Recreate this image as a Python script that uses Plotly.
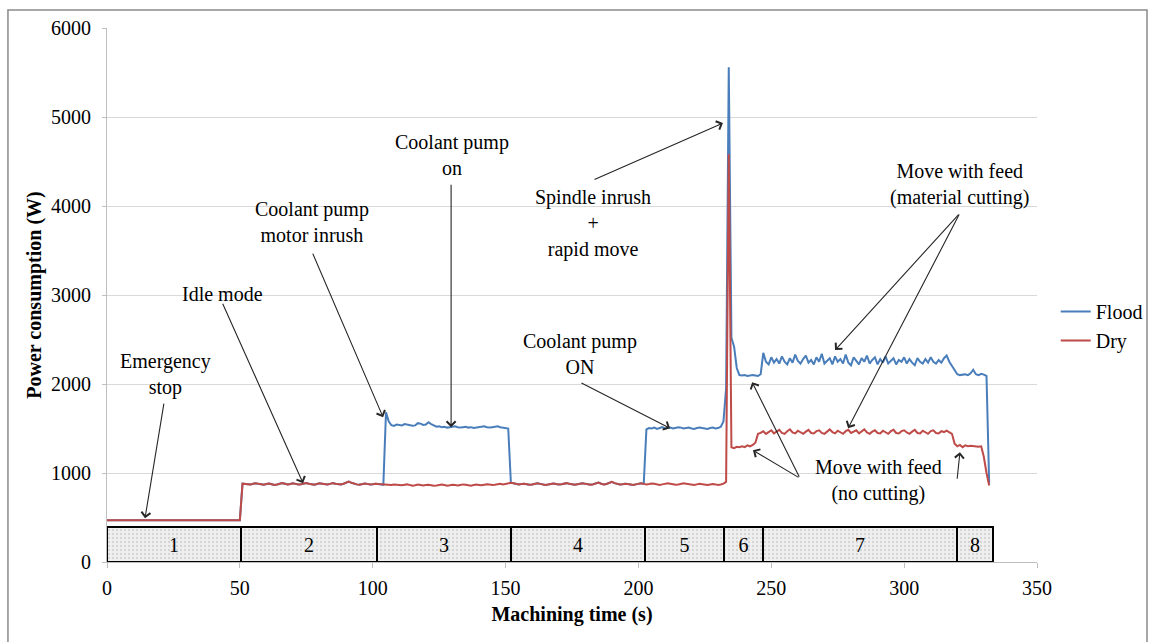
import plotly.graph_objects as go

SERIF = "Liberation Serif"

# ---- machining power log, sampled once per second (t = 0 .. 332 s) ----
time_s = list(range(0, 333))

dry_w = [
    # emergency stop, t 0-50
    470, 470, 471, 470, 469, 470, 470, 471, 470, 470,
    470, 469, 470, 470, 471, 470, 470, 470, 469, 470,
    471, 470, 470, 470, 470, 469, 470, 471, 470, 470,
    470, 470, 469, 470, 470, 471, 470, 470, 470, 469,
    470, 470, 471, 470, 470, 470, 469, 470, 470, 471,
    470,
    # idle, t 51-104
    880, 878, 875, 872, 880, 884, 878, 870, 868, 876,
    882, 874, 866, 870, 878, 886, 880, 872, 876, 884,
    878, 870, 874, 882, 888, 880, 872, 868, 876, 884,
    880, 874, 870, 878, 886, 880, 876, 872, 880, 896,
    904, 890, 878, 872, 868, 876, 882, 878, 870, 874,
    880, 876, 872, 868,
    # t 105-151
    866, 860, 864, 870, 866, 858, 862, 868, 872, 864,
    858, 862, 870, 866, 860, 864, 868, 862, 856, 860,
    866, 870, 864, 858, 862, 868, 864, 860, 866, 872,
    868, 862, 858, 864, 870, 866, 862, 868, 874, 870,
    864, 868, 876, 880, 872, 878, 884,
    # t 152-232
    890, 884, 878, 872, 876, 880, 874, 868, 872, 878,
    884, 878, 872, 866, 870, 876, 882, 876, 870, 874,
    880, 886, 878, 872, 868, 874, 880, 884, 878, 872,
    868, 874, 882, 892, 880, 872, 876, 884, 900, 886,
    876, 870, 874, 880, 876, 870, 866, 872, 880, 884,
    878, 872, 876, 882, 878, 870, 866, 872, 878, 884,
    880, 874, 868, 872, 878, 884, 880, 874, 870, 866,
    872, 878, 874, 868, 864, 870, 876, 872, 866, 870,
    880,
    # spindle start + feed without cutting, t 233-246
    900, 4580, 1290, 1280, 1295, 1290, 1300, 1290, 1310, 1300,
    1315, 1340, 1440, 1450,
    # cutting, t 247-318
    1470, 1440, 1460, 1480, 1445, 1465, 1485, 1450, 1440, 1470,
    1490, 1455, 1445, 1475, 1460, 1440, 1465, 1485, 1450, 1445,
    1470, 1480, 1450, 1440, 1465, 1490, 1460, 1445, 1475, 1455,
    1440, 1470, 1485, 1450, 1465, 1480, 1445, 1470, 1490, 1455,
    1440, 1465, 1480, 1450, 1445, 1475, 1460, 1440, 1470, 1485,
    1450, 1445, 1470, 1480, 1455, 1440, 1465, 1485, 1450, 1445,
    1475, 1460, 1440, 1470, 1480, 1450, 1445, 1470, 1460, 1475,
    1455, 1440,
    # retract, t 319-332
    1330, 1300, 1315, 1290, 1310, 1300, 1305, 1300, 1300, 1295,
    1300, 1180, 1000, 860,
]

flood_w = [
    # emergency stop, t 0-50
    470, 470, 471, 470, 469, 470, 470, 471, 470, 470,
    470, 469, 470, 470, 471, 470, 470, 470, 469, 470,
    471, 470, 470, 470, 470, 469, 470, 471, 470, 470,
    470, 470, 469, 470, 470, 471, 470, 470, 470, 469,
    470, 470, 471, 470, 470, 470, 469, 470, 470, 471,
    470,
    # idle, t 51-104
    880, 878, 875, 872, 880, 884, 878, 870, 868, 876,
    882, 874, 866, 870, 878, 886, 880, 872, 876, 884,
    878, 870, 874, 882, 888, 880, 872, 868, 876, 884,
    880, 874, 870, 878, 886, 880, 876, 872, 880, 896,
    904, 890, 878, 872, 868, 876, 882, 878, 870, 874,
    880, 876, 872, 868,
    # coolant pump on, t 105-151
    1683, 1580, 1538, 1530, 1545, 1540, 1535, 1550, 1545, 1540,
    1530, 1535, 1560, 1555, 1540, 1545, 1570, 1550, 1530, 1520,
    1525, 1515, 1520, 1510, 1515, 1520, 1525, 1515, 1510, 1515,
    1520, 1510, 1515, 1505, 1510, 1515, 1520, 1525, 1515, 1510,
    1515, 1520, 1525, 1515, 1510, 1505, 1500,
    # pump off, t 152-202
    890, 884, 878, 872, 876, 880, 874, 868, 872, 878,
    884, 878, 872, 866, 870, 876, 882, 876, 870, 874,
    880, 886, 878, 872, 868, 874, 880, 884, 878, 872,
    868, 874, 882, 892, 880, 872, 876, 884, 900, 886,
    876, 870, 874, 880, 876, 870, 866, 872, 880, 884,
    878,
    # pump on again, t 203-231
    1490, 1505, 1500, 1510, 1495, 1505, 1515, 1500, 1505, 1510,
    1500, 1505, 1515, 1510, 1500, 1505, 1510, 1500, 1495, 1505,
    1510, 1505, 1500, 1495, 1505, 1510, 1500, 1505, 1520,
    # spindle start + feed without cutting, t 232-246
    1580, 1950, 5560, 2520, 2420, 2180, 2100, 2095, 2100, 2090,
    2095, 2100, 2095, 2090, 2110,
    # cutting, t 247-318
    2350, 2250, 2220, 2300, 2240, 2280, 2230, 2310, 2250, 2220,
    2290, 2240, 2330, 2260, 2230, 2280, 2320, 2240, 2270, 2220,
    2300, 2250, 2340, 2230, 2260, 2290, 2220, 2310, 2250, 2280,
    2230, 2330, 2240, 2210, 2300, 2260, 2220, 2290, 2250, 2320,
    2230, 2270, 2300, 2220, 2280, 2240, 2310, 2230, 2260, 2290,
    2220, 2270, 2250, 2300, 2230, 2280, 2240, 2210, 2290, 2250,
    2230, 2280, 2240, 2300, 2250, 2230, 2270, 2240, 2290, 2320,
    2250, 2200,
    # retract, t 319-332
    2150, 2110, 2100, 2105, 2110, 2100, 2120, 2160, 2110, 2100,
    2115, 2105, 2090, 880,
]

# ---- machining phases drawn as numbered boxes along the time axis ----
phase_labels = ["1", "2", "3", "4", "5", "6", "7", "8"]
phase_start = [0, 50.5, 101.5, 152, 202.5, 232.3, 247, 320]
phase_end = [50.5, 101.5, 152, 202.5, 232.3, 247, 320, 333.3]

PHASE_BOX_TOP = 390
phase_mid = [(a + b) / 2 for a, b in zip(phase_start, phase_end)]
phase_width = [b - a for a, b in zip(phase_start, phase_end)]

FLOOD_COLOR = "#4a7ebb"
DRY_COLOR = "#be4b48"

fig = go.Figure()

fig.add_trace(go.Bar(
    x=phase_mid, y=[PHASE_BOX_TOP] * len(phase_mid), base=0, width=phase_width,
    text=phase_labels, textposition="inside", insidetextanchor="middle",
    textangle=0, constraintext="none",
    textfont=dict(family=SERIF, size=20, color="black"),
    marker=dict(
        color="#efefef",
        line=dict(color="black", width=2),
        pattern=dict(shape=".", fgcolor="#b8b8b8", bgcolor="#efefef",
                     size=4, solidity=0.25),
    ),
    showlegend=False, hoverinfo="skip",
))

fig.add_trace(go.Scatter(
    x=time_s, y=flood_w, mode="lines", name="Flood",
    line=dict(color=FLOOD_COLOR, width=2),
))
fig.add_trace(go.Scatter(
    x=time_s, y=dry_w, mode="lines", name="Dry",
    line=dict(color=DRY_COLOR, width=2),
))

# ---- labels ----
text_font = dict(family=SERIF, size=20, color="black")
labels = [
    ("Emergency<br>stop", 22.2, 2105),
    ("Idle mode", 43.3, 3007),
    ("Coolant pump<br>motor inrush", 77.2, 3825),
    ("Coolant pump<br>on", 129.8, 4572),
    ("Spindle inrush<br>+<br>rapid move", 182.9, 3808),
    ("Coolant pump<br>ON", 178.0, 2341),
    ("Move with feed<br>(material cutting)", 321.0, 4241),
    ("Move with feed<br>(no cutting)", 290.2, 918),
]
for txt, lx, ly in labels:
    fig.add_annotation(x=lx, y=ly, text=txt, showarrow=False, font=text_font,
                       xanchor="center", yanchor="middle", align="center")

# arrows: (tail x, tail y, tip x, tip y)
arrows = [
    (21.5, 1796, 14.3, 491),
    (43.3, 2919, 73.8, 885),
    (77.2, 3482, 103.9, 1627),
    (129.5, 4257, 129.5, 1514),
    (182.9, 4291, 231.8, 4932),
    (178.0, 2020, 211.9, 1503),
    (321.0, 3920, 274.0, 2381),
    (321.0, 3920, 278.9, 1503),
    (260.8, 941, 242.8, 2021),
    (260.8, 941, 243.1, 1256),
    (319.9, 919, 321.0, 1234),
]
for tx, ty, hx, hy in arrows:
    fig.add_annotation(x=hx, y=hy, ax=tx, ay=ty, axref="x", ayref="y",
                       xref="x", yref="y", text="", showarrow=True,
                       arrowhead=4, arrowsize=1.6, arrowwidth=1.1,
                       arrowcolor="#262626", standoff=0, startstandoff=0)

# outer chart frame
fig.add_shape(type="rect", xref="paper", yref="paper",
              x0=-0.1065, x1=1.1183, y0=-0.2, y1=1.0337,
              line=dict(color="#8a8a8a", width=1.5), layer="below")

axis_font = dict(family=SERIF, size=20, color="black")
fig.update_layout(
    width=1150, height=642,
    margin=dict(l=107, r=113, t=28, b=80, autoexpand=False),
    paper_bgcolor="white", plot_bgcolor="white",
    font=axis_font,
    showlegend=True,
    legend=dict(xref="container", yref="container",
                x=0.918, y=0.545, xanchor="left", yanchor="top",
                font=dict(family=SERIF, size=20, color="black"),
                bgcolor="rgba(0,0,0,0)", itemwidth=30,
                traceorder="normal"),
    xaxis=dict(
        range=[0, 350], dtick=50, tick0=0,
        showgrid=False, zeroline=False,
        showline=True, linecolor="#bfbfbf", linewidth=1,
        ticks="outside", ticklen=5, tickcolor="#bfbfbf",
        tickfont=axis_font, ticklabelstandoff=3,
        title=dict(text="Machining time (s)", standoff=8,
                   font=dict(family=SERIF, size=20, color="black",
                             weight="bold")),
    ),
    yaxis=dict(
        range=[0, 6000], dtick=1000, tick0=0,
        showgrid=True, gridcolor="#d9d9d9", gridwidth=1,
        zeroline=False,
        showline=True, linecolor="#bfbfbf", linewidth=1,
        ticks="outside", ticklen=4, tickcolor="#bfbfbf",
        tickfont=axis_font, ticklabelstandoff=7,
        title=dict(text="Power consumption (W)", standoff=4,
                   font=dict(family=SERIF, size=20, color="black",
                             weight="bold")),
    ),
    bargap=0,
)

fig.write_html("out.html")
